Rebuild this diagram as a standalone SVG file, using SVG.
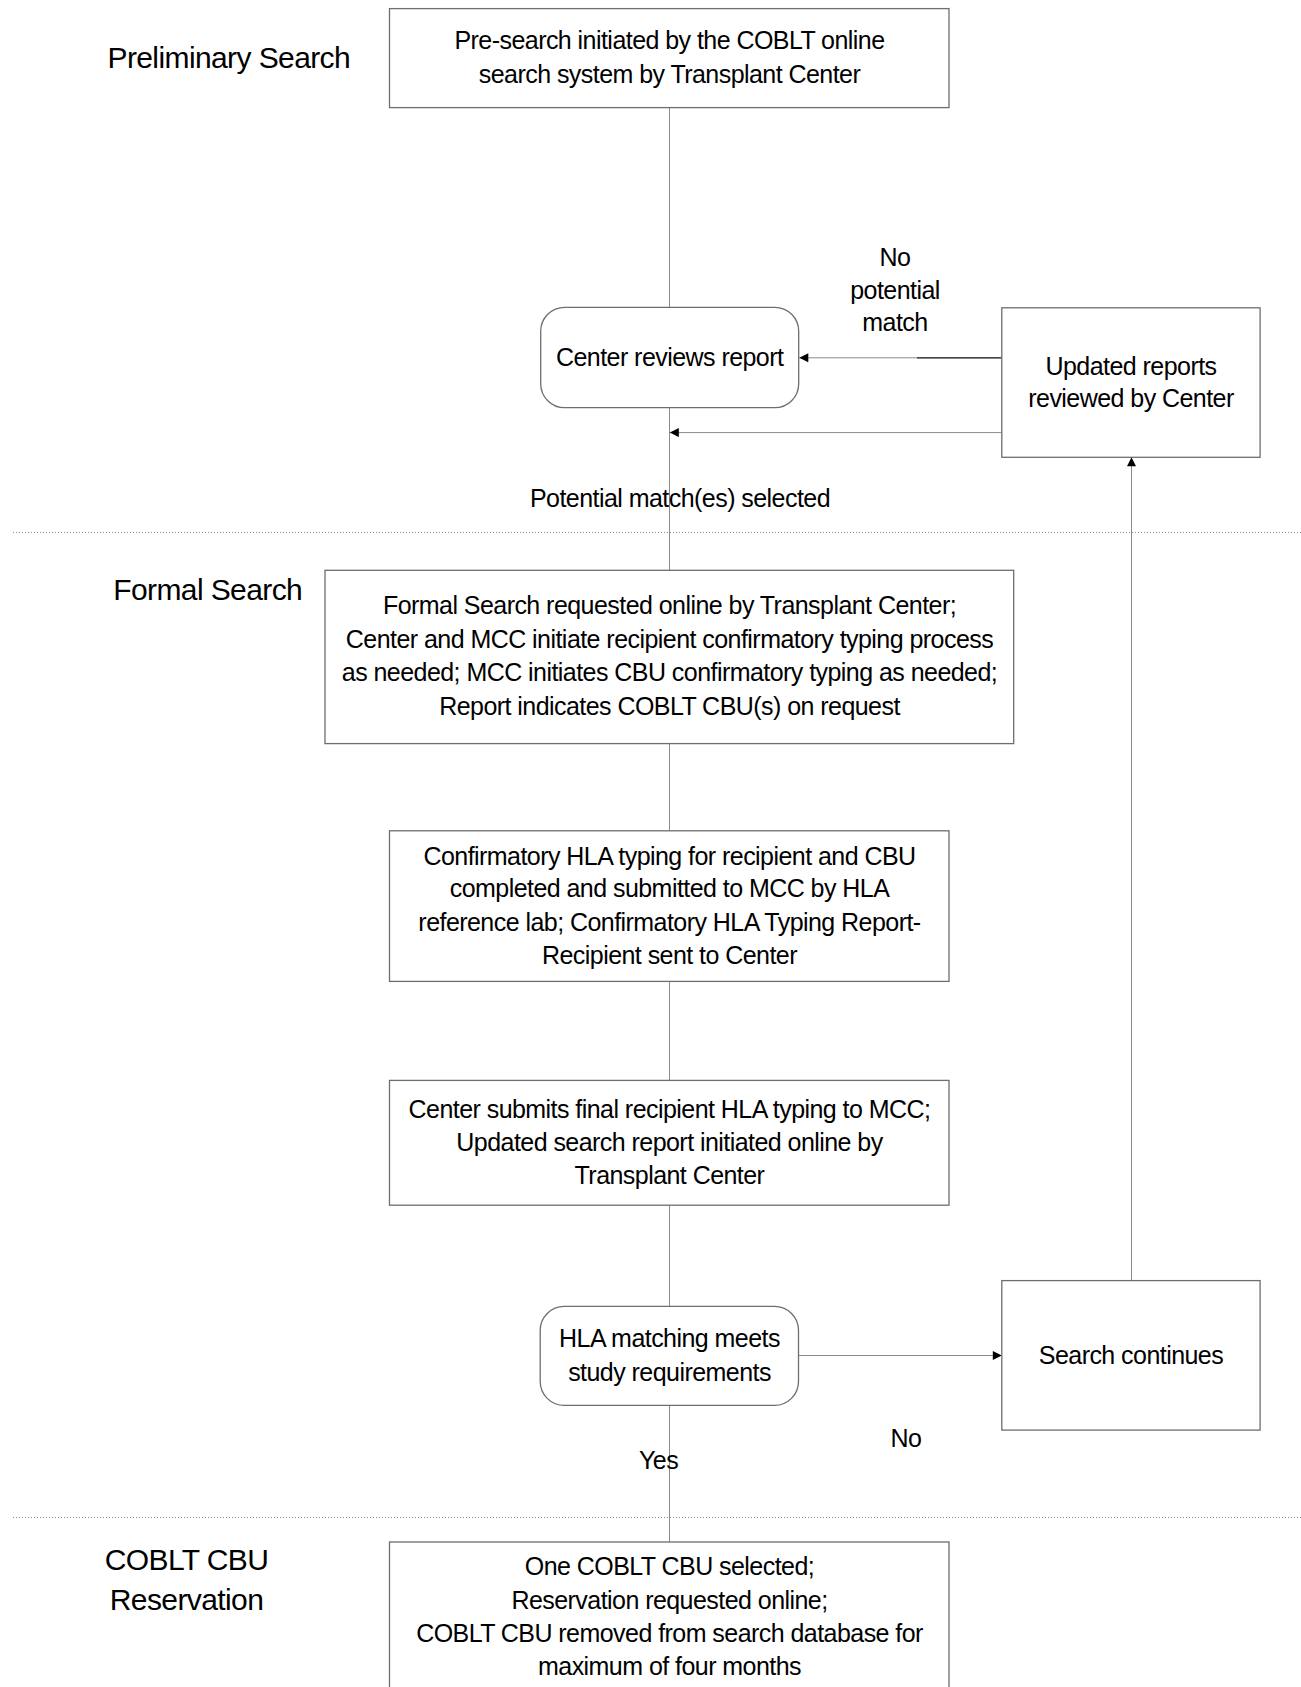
<svg xmlns="http://www.w3.org/2000/svg" width="1301" height="1687" viewBox="0 0 1301 1687">
<style>
  .box { fill: #ffffff; stroke: #6e6e6e; stroke-width: 1.3; }
  .t { font-family: "Liberation Sans", Arial, sans-serif; font-size: 25px; fill: #000; text-anchor: middle; letter-spacing: -0.55px; }
  .h { font-family: "Liberation Sans", Arial, sans-serif; font-size: 30px; fill: #000; text-anchor: middle; letter-spacing: -0.6px; }
  .c { fill: none; stroke: #8a8a8a; stroke-width: 1; }
  .sep { fill: none; stroke: #8a8a8a; stroke-width: 1; stroke-dasharray: 1 2; }
</style>
<defs>
  <marker id="arr" viewBox="0 0 10 10" refX="10" refY="5" markerWidth="10" markerHeight="9" markerUnits="userSpaceOnUse" orient="auto">
    <path d="M0,0 L10,5 L0,10 z" fill="#000"/>
  </marker>
</defs>
<rect width="1301" height="1687" fill="#ffffff"/>

<g id="separators">
  <line class="sep" x1="13" y1="532.5" x2="1301" y2="532.5"/>
  <line class="sep" x1="13" y1="1517.5" x2="1301" y2="1517.5"/>
</g>

<g id="lane-labels">
  <text class="h" x="228.8" y="67.7">Preliminary Search</text>
  <text class="h" x="207.7" y="600.4">Formal Search</text>
  <text class="h" x="186.5" y="1570">COBLT CBU</text>
  <text class="h" x="186.5" y="1609.7">Reservation</text>
</g>

<g id="connectors">
  <line class="c" x1="669.5" y1="107.6" x2="669.5" y2="307.3"/>
  <line class="c" x1="669.5" y1="407.7" x2="669.5" y2="570.3"/>
  <line class="c" x1="669.5" y1="743.6" x2="669.5" y2="830.8"/>
  <line class="c" x1="669.5" y1="981.4" x2="669.5" y2="1080.4"/>
  <line class="c" x1="669.5" y1="1205.2" x2="669.5" y2="1306.4"/>
  <line class="c" x1="669.5" y1="1405.4" x2="669.5" y2="1542"/>
  <line class="c" x1="1001.8" y1="357.8" x2="799.3" y2="357.8" marker-end="url(#arr)"/>
  <line x1="1001.8" y1="357.8" x2="917" y2="357.8" stroke="#2a2a2a" stroke-width="1.2"/>
  <line class="c" x1="1001.8" y1="432.6" x2="669.8" y2="432.6" marker-end="url(#arr)"/>
  <line class="c" x1="798.5" y1="1355.5" x2="1001.8" y2="1355.5" marker-end="url(#arr)"/>
  <line class="c" x1="1131.5" y1="1280.6" x2="1131.5" y2="457.3" marker-end="url(#arr)"/>
  <text class="t" x="895" y="265.7">No</text>
  <text class="t" x="895" y="299">potential</text>
  <text class="t" x="895" y="331.3">match</text>
  <text class="t" x="680" y="506.5">Potential match(es) selected</text>
  <text class="t" x="906" y="1447">No</text>
  <text class="t" x="658.6" y="1469">Yes</text>
</g>

<g id="n-presearch">
  <rect class="box" x="389.5" y="8.6" width="559.5" height="99"/>
  <text class="t" x="669.5" y="49.4">Pre-search initiated by the COBLT online</text>
  <text class="t" x="669.5" y="82.8">search system by Transplant Center</text>
</g>

<g id="n-center-reviews">
  <rect class="box" x="540.7" y="307.3" width="258" height="100.4" rx="24" ry="24"/>
  <text class="t" x="669.7" y="365.8">Center reviews report</text>
</g>

<g id="n-updated-reports">
  <rect class="box" x="1001.8" y="307.8" width="258.3" height="149.5"/>
  <text class="t" x="1131" y="374.5">Updated reports</text>
  <text class="t" x="1131" y="406.5">reviewed by Center</text>
</g>

<g id="n-formal">
  <rect class="box" x="325" y="570.3" width="688.7" height="173.3"/>
  <text class="t" x="669.5" y="614.3">Formal Search requested online by Transplant Center;</text>
  <text class="t" x="669.5" y="647.7">Center and MCC initiate recipient confirmatory typing process</text>
  <text class="t" x="669.5" y="681.1">as needed; MCC initiates CBU confirmatory typing as needed;</text>
  <text class="t" x="669.5" y="714.5">Report indicates COBLT CBU(s) on request</text>
</g>

<g id="n-confirmatory">
  <rect class="box" x="389.5" y="830.8" width="559.5" height="150.6"/>
  <text class="t" x="669.5" y="865.1">Confirmatory HLA typing for recipient and CBU</text>
  <text class="t" x="669.5" y="897.4">completed and submitted to MCC by HLA</text>
  <text class="t" x="669.5" y="930.7">reference lab; Confirmatory HLA Typing Report-</text>
  <text class="t" x="669.5" y="964.1">Recipient sent to Center</text>
</g>

<g id="n-center-submits">
  <rect class="box" x="389.5" y="1080.4" width="559.5" height="124.8"/>
  <text class="t" x="669.5" y="1118">Center submits final recipient HLA typing to MCC;</text>
  <text class="t" x="669.5" y="1151.3">Updated search report initiated online by</text>
  <text class="t" x="669.5" y="1183.6">Transplant Center</text>
</g>

<g id="n-hla-matching">
  <rect class="box" x="540.2" y="1306.4" width="258.3" height="99" rx="24" ry="24"/>
  <text class="t" x="669.5" y="1347.2">HLA matching meets</text>
  <text class="t" x="669.5" y="1380.5">study requirements</text>
</g>

<g id="n-search-continues">
  <rect class="box" x="1001.8" y="1280.6" width="258.3" height="149.5"/>
  <text class="t" x="1131" y="1363.5">Search continues</text>
</g>

<g id="n-reservation">
  <rect class="box" x="389.5" y="1542" width="559.5" height="160"/>
  <text class="t" x="669.5" y="1575.3">One COBLT CBU selected;</text>
  <text class="t" x="669.5" y="1608.7">Reservation requested online;</text>
  <text class="t" x="669.5" y="1642">COBLT CBU removed from search database for</text>
  <text class="t" x="669.5" y="1675.4">maximum of four months</text>
</g>
</svg>
